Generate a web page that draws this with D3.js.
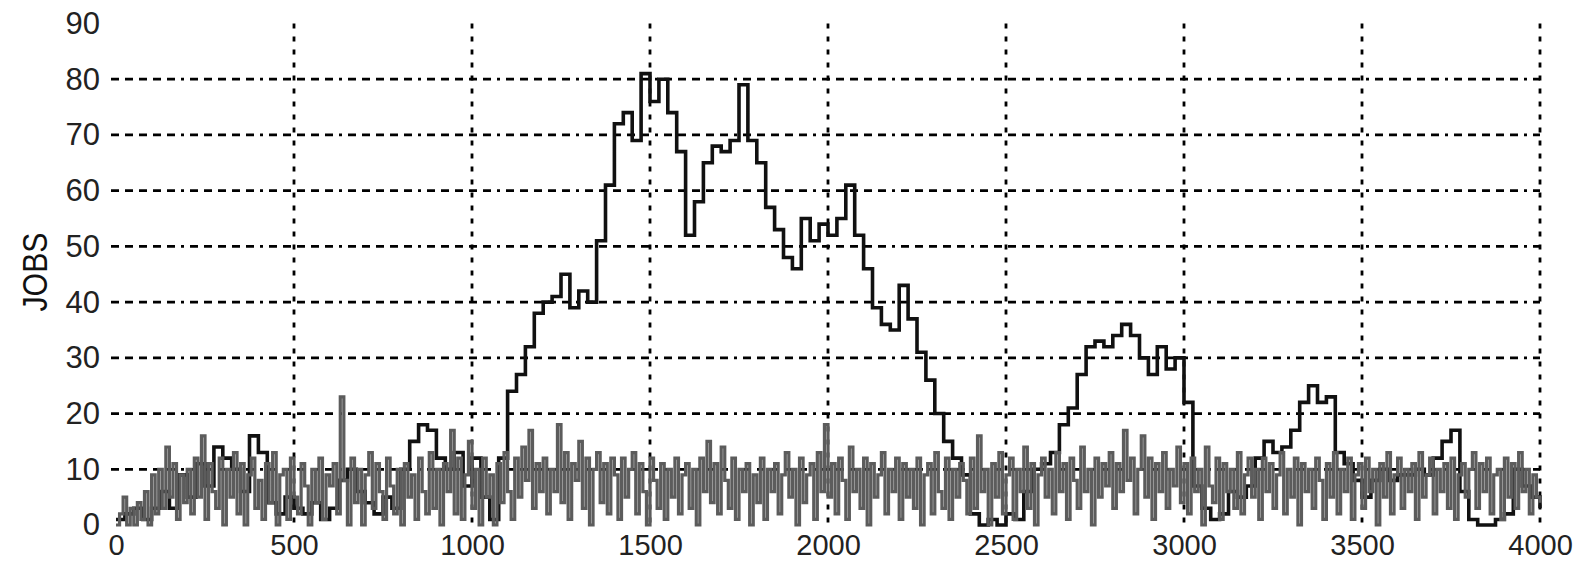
<!DOCTYPE html>
<html>
<head>
<meta charset="utf-8">
<script src="https://cdn.jsdelivr.net/npm/d3@7"></script>
<style>
  body { margin: 0; background: white; }
</style>
</head>
<body>
<div id="chart"></div>
<script>
// jobs in queue, black series sampled every 25 time units (0..4000)
var blackStep = 25;
var blackJobs = [
  1, 2, 3, 1, 3, 6, 3, 9, 5, 11, 7, 14, 12, 10, 6, 16, 13, 4, 2, 5,
  3, 2, 4, 1, 3, 8, 10, 6, 4, 2, 5, 3, 10, 15, 18, 17, 12, 10, 13, 7,
  12, 5, 1, 12, 24, 27, 32, 38, 40, 41, 45, 39, 42, 40, 51, 61, 72, 74, 69, 81,
  76, 80, 74, 67, 52, 58, 65, 68, 67, 69, 79, 69, 65, 57, 53, 48, 46, 55, 51, 54,
  52, 55, 61, 52, 46, 39, 36, 35, 43, 37, 31, 26, 20, 15, 12, 9, 2, 0, 1, 0,
  2, 1, 6, 10, 11, 13, 18, 21, 27, 32, 33, 32, 34, 36, 34, 30, 27, 32, 28, 30,
  22, 7, 3, 1, 2, 6, 5, 7, 12, 15, 13, 14, 17, 22, 25, 22, 23, 13, 11, 8,
  5, 8, 10, 8, 9, 9, 10, 9, 12, 15, 17, 6, 1, 0, 0, 1, 2, 10, 7, 5,
  3
];

// gray series sampled every 10 time units (0..4000)
var grayStep = 10;
var grayJobs = [
  0, 2, 5, 0, 3, 0, 4, 1, 6, 0, 9, 2, 10, 3, 14, 5, 11, 1, 9, 4,
  10, 2, 12, 5, 16, 1, 11, 6, 3, 12, 0, 10, 5, 13, 2, 11, 0, 9, 12, 3,
  8, 1, 11, 4, 13, 0, 9, 10, 1, 12, 5, 2, 11, 7, 0, 10, 4, 12, 1, 9,
  7, 11, 2, 23, 8, 0, 12, 4, 10, 0, 9, 13, 3, 11, 6, 1, 12, 7, 2, 10,
  0, 11, 5, 9, 1, 12, 6, 2, 13, 3, 10, 0, 11, 6, 17, 2, 12, 1, 9, 15,
  3, 10, 0, 12, 5, 9, 0, 11, 4, 13, 6, 1, 12, 5, 14, 8, 17, 3, 11, 6,
  12, 2, 10, 6, 18, 4, 13, 1, 11, 8, 15, 3, 12, 0, 10, 13, 4, 11, 2, 12,
  9, 1, 12, 5, 10, 13, 2, 11, 6, 0, 12, 8, 3, 11, 1, 10, 5, 12, 2, 9,
  11, 3, 10, 0, 12, 6, 15, 4, 11, 2, 14, 8, 3, 12, 1, 10, 6, 11, 0, 9,
  4, 12, 1, 10, 6, 11, 2, 9, 13, 5, 10, 0, 12, 4, 9, 11, 1, 13, 6, 18,
  5, 11, 2, 12, 8, 1, 14, 6, 10, 3, 12, 0, 11, 5, 9, 13, 2, 10, 6, 12,
  1, 11, 5, 10, 3, 12, 0, 9, 11, 2, 13, 6, 3, 12, 1, 10, 5, 11, 8, 2,
  12, 3, 16, 6, 10, 0, 11, 5, 13, 2, 9, 12, 1, 10, 6, 14, 3, 11, 0, 9,
  12, 5, 10, 2, 13, 6, 11, 1, 12, 8, 3, 14, 6, 10, 0, 12, 5, 11, 7, 13,
  3, 11, 6, 17, 8, 12, 2, 10, 16, 5, 12, 1, 11, 6, 13, 3, 10, 7, 14, 4,
  11, 2, 12, 6, 10, 0, 14, 7, 4, 12, 1, 11, 6, 10, 3, 13, 2, 9, 12, 5,
  10, 1, 12, 6, 11, 3, 9, 13, 2, 10, 5, 12, 0, 11, 6, 10, 3, 12, 8, 1,
  11, 5, 13, 2, 10, 6, 12, 1, 9, 11, 3, 12, 6, 10, 0, 11, 5, 13, 2, 9,
  12, 3, 10, 6, 11, 1, 13, 5, 9, 12, 2, 10, 6, 11, 3, 12, 1, 9, 11, 5,
  10, 13, 3, 11, 6, 12, 2, 9, 10, 1, 12, 5, 11, 3, 13, 6, 10, 2, 9, 5,
  4
];

var xTicks = [0, 500, 1000, 1500, 2000, 2500, 3000, 3500, 4000];
var yTicks = [0, 10, 20, 30, 40, 50, 60, 70, 80, 90];
var xGrid = [500, 1000, 1500, 2000, 2500, 3000, 3500, 4000];
var yGrid = [10, 20, 30, 40, 50, 60, 70, 80];

var svgWidth = 1578,
    svgHeight = 563;

var x = d3.scaleLinear().domain([0, 4000]).range([116, 1540]);
var y = d3.scaleLinear().domain([0, 90]).range([525, 23.5]);

var font = '"Liberation Sans", Arial, sans-serif';

var svg = d3.select('#chart').append('svg')
    .attr('width', svgWidth)
    .attr('height', svgHeight)
    .style('background', 'white');

// horizontal grid (dash-dot)
svg.append('g').selectAll('line')
    .data(yGrid)
    .enter().append('line')
    .attr('x1', 111).attr('x2', x(4000))
    .attr('y1', function(d) { return y(d); })
    .attr('y2', function(d) { return y(d); })
    .attr('stroke', 'black').attr('stroke-width', 2.8)
    .attr('stroke-dasharray', '8,6,8,6,8,6,8,6,8,6,3,6');

// vertical grid (dotted)
svg.append('g').selectAll('line')
    .data(xGrid)
    .enter().append('line')
    .attr('x1', function(d) { return x(d); })
    .attr('x2', function(d) { return x(d); })
    .attr('y1', y(90)).attr('y2', y(0))
    .attr('stroke', 'black').attr('stroke-width', 2.8)
    .attr('stroke-dasharray', '5,8');

var lineBlack = d3.line()
    .x(function(d, i) { return x(i * blackStep); })
    .y(function(d) { return y(d); })
    .curve(d3.curveStepAfter);

var lineGray = d3.line()
    .x(function(d, i) { return x(i * grayStep); })
    .y(function(d) { return y(d); })
    .curve(d3.curveStepAfter);

// black series
svg.append('path')
    .datum(blackJobs)
    .attr('d', lineBlack)
    .attr('fill', 'none')
    .attr('stroke', '#111')
    .attr('stroke-width', 3.6);

// gray series on top
svg.append('path')
    .datum(grayJobs)
    .attr('d', lineGray)
    .attr('fill', 'none')
    .attr('stroke', '#5c5c5c')
    .attr('stroke-width', 3.2);

// y axis labels
var yAxis = svg.append('g')
    .attr('transform', 'translate(103,0)')
    .call(d3.axisLeft(y).tickValues(yTicks).tickSize(0).tickPadding(3));
yAxis.select('.domain').remove();
yAxis.selectAll('text')
    .attr('font-size', 31).attr('font-family', font).attr('fill', '#222');

// x axis labels
var xAxis = svg.append('g')
    .attr('transform', 'translate(0,' + y(0) + ')')
    .call(d3.axisBottom(x).tickValues(xTicks).tickFormat(d3.format('d'))
        .tickSize(0).tickPadding(9));
xAxis.select('.domain').remove();
xAxis.selectAll('text')
    .attr('font-size', 29).attr('font-family', font).attr('fill', '#222');

// y title
svg.append('text')
    .text('JOBS')
    .attr('transform', 'translate(47,272) rotate(-90)')
    .attr('text-anchor', 'middle')
    .attr('font-family', font).attr('font-size', 35)
    .attr('textLength', 79).attr('lengthAdjust', 'spacingAndGlyphs')
    .attr('fill', '#111');
</script>
</body>
</html>
